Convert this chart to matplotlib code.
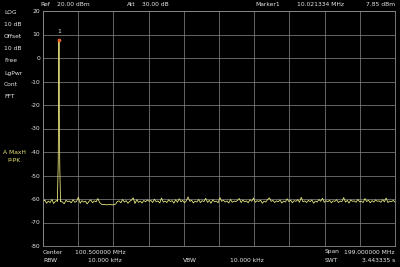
# plot.py
"""
Spectrum analyser screen: single carrier at ~10 MHz over a 1-200 MHz span.
"""

import numpy as np
import matplotlib.pyplot as plt

# ---------------------------------------------------------------------------------
# Data
start_mhz = 1.0
stop_mhz = 200.0

# noise floor trace (dBm), one reading per sweep bin
noise_dbm = [
    -61.2, -60.4, -61.8, -60.9, -61.5, -60.2, -61.9, -61.0, -60.6, -61.7,
    -60.8, -61.3, -62.0, -60.5, -61.1, -60.9, -61.6, -60.3, -61.4, -61.0,
    -59.2, -61.8, -60.7, -61.3, -60.9, -62.1, -61.0, -60.4, -61.6, -60.8,
    -61.2, -59.8, -61.5, -62.2, -62.4, -62.3, -62.5, -62.4, -62.3, -62.5,
    -62.4, -62.2, -61.1, -60.8, -61.6, -60.2, -61.3, -60.7, -61.8, -61.0,
    -60.5, -59.5, -61.9, -60.3, -61.4, -60.9, -61.7, -60.6, -61.2, -60.4,
    -61.0, -60.6, -61.5, -60.1, -61.2, -60.8, -61.7, -59.6, -61.3, -60.9,
    -61.5, -60.4, -61.1, -60.7, -61.8, -60.3, -61.4, -59.9, -61.2, -60.6,
    -61.6, -60.8, -59.1, -61.0, -60.5, -61.7, -60.9, -61.3, -60.2, -61.5,
    -60.7, -61.1, -59.7, -61.4, -60.6, -61.8, -60.3, -61.2, -60.9, -61.6,
    -59.4, -61.0, -60.5, -61.3, -60.8, -61.7, -60.2, -61.4, -60.9, -61.1,
    -60.6, -59.8, -61.5, -60.4, -61.2, -60.8, -61.6, -60.3, -61.0, -59.6,
    -61.4, -60.7, -61.1, -60.5, -61.8, -60.9, -61.3, -60.2, -59.5, -61.0,
    -60.6, -61.5, -60.8, -61.2, -60.4, -61.7, -60.9, -61.3, -59.9, -61.1,
    -60.5, -61.6, -60.7, -61.0, -60.3, -61.4, -59.3, -61.2, -60.8, -61.5,
    -60.6, -61.1, -60.4, -61.8, -60.9, -61.3, -60.2, -61.0, -59.7, -61.4,
    -60.7, -61.2, -60.5, -61.6, -60.8, -61.0, -60.3, -61.5, -60.9, -61.1,
    -59.4, -61.3, -60.6, -61.7, -60.4, -61.0, -60.8, -61.4, -60.2, -61.2,
    -60.9, -61.5, -59.8, -61.1, -60.5, -61.6, -60.7, -61.3, -60.4, -61.0,
    -60.8, -61.4, -60.3, -61.2, -59.6, -61.5, -60.9, -61.1, -60.6, -61.3,
]

# carrier shape around the marker
peak_mhz = [9.1, 9.6, 9.85, 10.02, 10.2, 10.45, 10.9]
peak_dbm = [-61.0, -45.0, -19.0, 7.85, -19.0, -45.0, -61.0]

marker_mhz = 10.021334
marker_dbm = 7.85

yticks = [20, 10, 0, -10, -20, -30, -40, -50, -60, -70, -80]

# ---------------------------------------------------------------------------------
BG = 'black'
FG = '#e8e8e8'
GRID = '#8a8a8a'
TRACE = '#e2e27a'
FS = 4.3

freq = list(np.linspace(start_mhz, stop_mhz, len(noise_dbm)))
level = list(noise_dbm)
# splice carrier into the sweep
keep = [(f, l) for f, l in zip(freq, level) if not (peak_mhz[0] <= f <= peak_mhz[-1])]
keep += list(zip(peak_mhz, peak_dbm))
keep.sort()
trace_f = [k[0] for k in keep]
trace_l = [k[1] for k in keep]

fig = plt.figure(figsize=(4.0, 2.67), dpi=100, facecolor=BG)
ax = fig.add_axes([43 / 400, 1 - 246 / 267, 352 / 400, 235 / 267], facecolor=BG)

ax.plot(trace_f, trace_l, color=TRACE, lw=0.6)
ax.plot(marker_mhz, marker_dbm, 'o', color='#e05020', ms=2.2, mec='#ff7a30', mew=0.4)
ax.text(marker_mhz, marker_dbm + 2.5, '1', color=FG, fontsize=FS, ha='center', va='bottom')

ax.set_xlim(start_mhz, stop_mhz)
ax.set_ylim(-80, 20)
ax.set_xticks(np.linspace(start_mhz, stop_mhz, 11))
ax.set_yticks(yticks)
ax.set_xticklabels([])
ax.set_yticklabels([str(t) for t in yticks], color=FG, fontsize=FS)
ax.tick_params(length=0, pad=2)
ax.grid(True, color=GRID, lw=0.5)
for s in ax.spines.values():
    s.set_color(GRID)
    s.set_linewidth(0.6)


def txt(x, y, s, color=FG, ha='left'):
    fig.text(x / 400, 1 - y / 267, s, color=color, fontsize=FS, ha=ha, va='center')


# top header
txt(40, 5, 'Ref')
txt(57, 5, '20.00 dBm')
txt(127, 5, 'Att')
txt(142, 5, '30.00 dB')
txt(255, 5, 'Marker1')
txt(297, 5, '10.021334 MHz')
txt(395, 5, '7.85 dBm', ha='right')

# left panel
for y, s in [(12, 'LOG'), (24, '10 dB'), (36, 'Offset'), (48, '10 dB'),
             (61, 'Free'), (73, 'LgPwr'), (85, 'Cont'), (97, 'FFT')]:
    txt(4, y, s)
txt(3, 153, 'A MaxH', color='#e8e070')
txt(7, 160, 'P-PK', color='#e8e070')

# bottom footer
txt(43, 252, 'Center')
txt(75, 252, '100.500000 MHz')
txt(43, 261, 'RBW')
txt(88, 261, '10.000 kHz')
txt(183, 261, 'VBW')
txt(230, 261, '10.000 kHz')
txt(325, 252, 'Span')
txt(395, 252, '199.000000 MHz', ha='right')
txt(325, 261, 'SWT')
txt(395, 261, '3.443335 s', ha='right')

fig.savefig('out.png', dpi=100, facecolor=BG)
